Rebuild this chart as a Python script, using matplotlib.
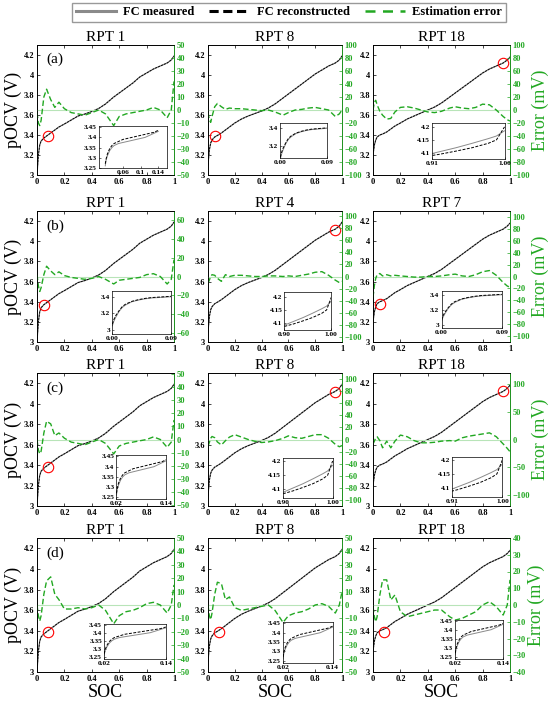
import matplotlib
matplotlib.use("Agg")
import matplotlib.pyplot as plt
from matplotlib.lines import Line2D
from matplotlib.ticker import FuncFormatter, MultipleLocator

# SOC grid shared by all main panels
soc = [0.0, 0.01, 0.02, 0.03, 0.05, 0.07, 0.1, 0.13, 0.16, 0.2, 0.25, 0.3, 0.35,
       0.4, 0.45, 0.5, 0.56, 0.6, 0.65, 0.7, 0.75, 0.8, 0.85, 0.9, 0.95, 0.98, 1.0]

# pOCV curves (V), one per column
ocv_col1 = [3.0, 3.2, 3.3, 3.34, 3.37, 3.39, 3.42, 3.45, 3.48, 3.51, 3.55, 3.59, 3.61,
            3.635, 3.665, 3.71, 3.78, 3.82, 3.87, 3.92, 3.98, 4.02, 4.06, 4.09, 4.12, 4.15, 4.19]
ocv_col2 = [3.1, 3.25, 3.32, 3.35, 3.38, 3.395, 3.42, 3.45, 3.48, 3.52, 3.56, 3.59, 3.615,
            3.64, 3.67, 3.71, 3.77, 3.81, 3.86, 3.91, 3.96, 4.01, 4.05, 4.09, 4.12, 4.15, 4.19]
ocv_col3 = [3.2, 3.3, 3.35, 3.38, 3.4, 3.41, 3.43, 3.46, 3.49, 3.52, 3.56, 3.59, 3.62,
            3.65, 3.68, 3.72, 3.78, 3.82, 3.87, 3.92, 3.97, 4.02, 4.06, 4.09, 4.12, 4.15, 4.18]

# estimation error (mV) per panel
err_a1 = [-2, -10, -12, -8, 10, 16, 8, 2, 6, 1, -2, -3, -4, -2, 0, -3, -12, -5, -3, -2, -1, 0, 2, 0, -6, 0, 22]
err_a2 = [-4, -15, -19, -10, 5, 10, 5, 1, 3, 2, 2, 1, 0, -1, 0, -3, -8, -4, 0, 1, 3, 4, 2, 0, -10, -6, 0]
err_a3 = [0, 12, 15, 8, -2, -8, -14, -13, -3, 4, 5, 3, 0, -3, -4, -2, 3, 5, 3, 2, 4, 9, 8, 0, -10, -15, -17]
err_b1 = [2, -10, -16, -12, 2, 11, 6, 2, 5, 1, -1, -2, -3, -2, 0, -3, -8, -4, -3, -2, -1, 2, 3, 0, -8, -3, 18]
err_b2 = [-11, -6, 0, 3, 2, -3, -8, 3, 0, 2, 2, 1, 0, 0, 1, 1, 0, 1, 0, 2, 4, 7, 8, 2, -6, -10, -8]
err_b3 = [-35, -15, -3, 3, 5, 1, 3, 1, 2, 1, 0, -1, -1, 0, 0, 1, 3, 4, 1, 0, 3, 8, 10, 2, -10, -16, -18]
err_c1 = [0, -8, -11, -9, 5, 14, 12, 3, 5, 1, -2, -3, -4, -2, 0, -3, -11, -5, -3, -2, -1, 0, 2, 0, -6, -2, 15]
err_c2 = [-11, -5, 2, 5, 3, -4, -9, -2, 4, 8, 4, 0, -3, -5, -4, -2, 2, 6, 3, 2, 5, 8, 8, 2, -8, -12, -10]
err_c3 = [-8, -3, 3, 5, -2, -15, -3, -15, -3, 8, 5, -2, -6, -6, -5, -3, -2, -3, 3, 6, 8, 10, 12, 5, -8, -16, -22]
err_d1 = [0, -8, -12, -8, 8, 18, 21, 8, 4, -3, -3, -2, -3, -2, 0, -4, -14, -8, -5, -4, -2, 1, 2, 0, -6, 0, 15]
err_d2 = [0, -8, -11, -6, 8, 17, 16, 4, 6, -2, -4, -3, -2, -1, 0, -4, -13, -8, -6, -5, -3, 0, 1, -1, -6, 0, 10]
err_d3 = [-1, -7, -10, -7, 6, 15, 15, 3, 6, -4, -7, -6, -5, -4, -3, -3, -7, -9, -8, -6, -4, 0, 2, -1, -6, 0, 15]

# zoomed inset data
soc_lo = [0.02, 0.022, 0.025, 0.03, 0.035, 0.04, 0.05, 0.06, 0.07, 0.08, 0.09, 0.1, 0.11, 0.12, 0.13, 0.14]
lo_meas = [3.26, 3.29, 3.31, 3.335, 3.35, 3.36, 3.37, 3.375, 3.38, 3.385, 3.39, 3.395, 3.40, 3.41, 3.42, 3.43]
lo_recon = [3.27, 3.295, 3.32, 3.345, 3.36, 3.37, 3.38, 3.39, 3.395, 3.40, 3.405, 3.41, 3.415, 3.42, 3.425, 3.435]
soc_st = [0.0, 0.002, 0.005, 0.01, 0.015, 0.02, 0.03, 0.04, 0.05, 0.06, 0.07, 0.08, 0.09]
st_meas = [3.05, 3.1, 3.15, 3.22, 3.27, 3.3, 3.34, 3.36, 3.375, 3.385, 3.39, 3.395, 3.40]
st_recon = [3.07, 3.12, 3.17, 3.23, 3.28, 3.31, 3.345, 3.365, 3.38, 3.39, 3.395, 3.4, 3.405]
soc_hi = [0.90, 0.92, 0.94, 0.96, 0.98, 0.99, 1.0]
hi_meas = [4.09, 4.105, 4.12, 4.137, 4.155, 4.165, 4.185]
hi_recon = [4.085, 4.095, 4.107, 4.12, 4.137, 4.15, 4.2]

lo_yticks = [3.25, 3.3, 3.35, 3.4, 3.45]
st_yticks = [3.0, 3.2, 3.4]
hi_yticks = [4.1, 4.15, 4.2]

titles = [["RPT 1", "RPT 8", "RPT 18"],
          ["RPT 1", "RPT 4", "RPT 7"],
          ["RPT 1", "RPT 8", "RPT 18"],
          ["RPT 1", "RPT 8", "RPT 18"]]
row_tags = ["(a)", "(b)", "(c)", "(d)"]
errors = [[err_a1, err_a2, err_a3], [err_b1, err_b2, err_b3],
          [err_c1, err_c2, err_c3], [err_d1, err_d2, err_d3]]
ocvs = [ocv_col1, ocv_col2, ocv_col3]
# (limit, tick step) for right axis
err_axes = [[(50, 10), (100, 20), (100, 20)],
            [(70, 20), (108, 20), (110, 20)],
            [(51, 10), (110, 20), (120, 50)],
            [(50, 10), (50, 10), (40, 10)]]
circles = [[(0.08, 3.39), (0.05, 3.39), (0.95, 4.12)],
           [(0.05, 3.37), (0.95, 4.11), (0.05, 3.38)],
           [(0.08, 3.38), (0.95, 4.11), (0.95, 4.12)],
           [(0.08, 3.39), (0.08, 3.39), (0.08, 3.39)]]

GREEN = "#22a822"
GRAY = "#8a8a8a"

plt.rcParams["font.family"] = ["Liberation Serif", "DejaVu Serif"]
plt.rcParams["font.weight"] = "bold"
plt.rcParams["axes.linewidth"] = 0.6

# inset kind, rect in axes coords, xlim, xticks, xticklabels, ylim
insets = [[("lo", [0.45, 0.055, 0.5, 0.32], (0.005, 0.16), [0.06, 0.1, 0.14], ["0.06", "0.1", "0.14"], (3.25, 3.455)),
           ("st", [0.54, 0.13, 0.35, 0.27], (0.0, 0.09), [0.0, 0.09], ["0.00", "0.09"], (3.06, 3.46)),
           ("hi", [0.43, 0.12, 0.53, 0.28], (0.91, 1.0), [0.91, 1.0], ["0.91", "1.00"], (4.075, 4.215))],
          [("st", [0.55, 0.06, 0.43, 0.33], (0.0, 0.09), [0.0, 0.09], ["0.00", "0.09"], (2.95, 3.47)),
           ("hi", [0.57, 0.09, 0.35, 0.29], (0.9, 1.0), [0.9, 1.0], ["0.90", "1.00"], (4.07, 4.22)),
           ("st", [0.5, 0.11, 0.44, 0.28], (0.0, 0.09), [0.0, 0.09], ["0.00", "0.09"], (2.97, 3.45))],
          [("lo", [0.58, 0.05, 0.365, 0.33], (0.02, 0.14), [0.02, 0.14], ["0.02", "0.14"], (3.24, 3.455)),
           ("hi", [0.56, 0.06, 0.37, 0.30], (0.9, 1.0), [0.9, 1.0], ["0.90", "1.00"], (4.07, 4.21)),
           ("hi", [0.58, 0.07, 0.365, 0.30], (0.91, 1.0), [0.91, 1.0], ["0.91", "1.00"], (4.07, 4.21))],
          [("lo", [0.49, 0.10, 0.45, 0.26], (0.02, 0.14), [0.02, 0.14], ["0.02", "0.14"], (3.24, 3.455)),
           ("lo", [0.56, 0.07, 0.37, 0.30], (0.02, 0.14), [0.02, 0.14], ["0.02", "0.14"], (3.24, 3.455)),
           ("lo", [0.6, 0.10, 0.35, 0.29], (0.02, 0.14), [0.02, 0.14], ["0.02", "0.14"], (3.24, 3.455))]]
inset_data = {"lo": (soc_lo, lo_meas, lo_recon, lo_yticks),
              "st": (soc_st, st_meas, st_recon, st_yticks),
              "hi": (soc_hi, hi_meas, hi_recon, hi_yticks)}

gfmt = FuncFormatter(lambda v, p: "{:g}".format(round(v, 3)))


def draw_inset(host, spec):
    kind, rect, xlim, xt, xtl, ylim = spec
    x, ym, yr, yt = inset_data[kind]
    ins = host.inset_axes(rect)
    ins.plot(x, ym, color=GRAY, lw=0.7)
    ins.plot(x, yr, color="k", lw=0.7, ls=(0, (3, 1.5)))
    ins.set_xlim(*xlim)
    ins.set_ylim(*ylim)
    ins.set_xticks(xt)
    ins.set_xticklabels(xtl)
    yt_in = [v for v in yt if ylim[0] <= v <= ylim[1]]
    ins.set_yticks(yt_in)
    ins.set_yticklabels(["{:g}".format(v) for v in yt_in])
    ins.tick_params(direction="in", length=1.5, width=0.4, labelsize=5.3, pad=1.5)
    for s in ins.spines.values():
        s.set_linewidth(0.5)


def draw_panel(ax, r, c):
    ax.plot(soc, ocvs[c], color=GRAY, lw=0.9)
    ax.plot(soc, ocvs[c], color="k", lw=0.65, ls=(0, (2.5, 1)))
    ax.set_xlim(0, 1)
    ax.set_ylim(3, 4.3)
    ax.xaxis.set_major_locator(MultipleLocator(0.2))
    ax.yaxis.set_major_locator(MultipleLocator(0.2))
    ax.xaxis.set_major_formatter(gfmt)
    ax.yaxis.set_major_formatter(gfmt)
    ax.tick_params(direction="in", length=2, width=0.5, labelsize=6, pad=2, top=True)
    ax.set_title(titles[r][c], fontsize=11, fontweight="normal", pad=3)
    cx, cy = circles[r][c]
    ax.plot(cx, cy, "o", mfc="none", mec="red", ms=7.5, mew=0.8)

    ax2 = ax.twinx()
    lim, step = err_axes[r][c]
    ax2.axhline(0, color="#b8e4b8", lw=0.8)
    ax2.plot(soc, errors[r][c], color=GREEN, lw=1.0, ls=(0, (4, 2)))
    ax2.set_ylim(-lim, lim)
    ax2.yaxis.set_major_locator(MultipleLocator(step))
    ax2.tick_params(direction="in", length=2, width=0.5, labelsize=6, pad=2,
                    colors=GREEN)
    ax2.spines["right"].set_color(GREEN)
    draw_inset(ax2, insets[r][c])

    if c == 0:
        ax.set_ylabel("pOCV (V)", fontsize=13, fontweight="normal", labelpad=1)
        ax.text(0.07, 0.86, row_tags[r], transform=ax.transAxes, fontsize=11,
                fontweight="normal")
    if c == 2:
        ax2.set_ylabel("Error (mV)", fontsize=13, fontweight="normal", color=GREEN,
                       labelpad=1)
    if r == 3:
        ax.set_xlabel("SOC", fontsize=13, fontweight="normal", labelpad=1)


def main():
    fig = plt.figure(figsize=(5.5, 7.1), dpi=100)
    W, H = 550.0, 710.0
    col_left = [37, 208, 373]
    col_w = [137, 134, 137]
    row_top = [45, 211, 373, 538]
    row_bot = [175, 342, 506, 672]
    for r in range(4):
        for c in range(3):
            ax = fig.add_axes([col_left[c] / W, 1 - row_bot[r] / H,
                               col_w[c] / W, (row_bot[r] - row_top[r]) / H])
            draw_panel(ax, r, c)

    handles = [Line2D([], [], color=GRAY, lw=2.2),
               Line2D([], [], color="k", lw=2.2, ls=(0, (3, 1.5))),
               Line2D([], [], color=GREEN, lw=1.8, ls=(0, (4, 3)))]
    labels = ["FC measured", "FC reconstructed", "Estimation error"]
    fig.legend(handles, labels, loc="upper center", bbox_to_anchor=(0.525, 1.0),
               ncol=3, fancybox=False, edgecolor="#999999", framealpha=1,
               prop={"size": 9, "weight": "bold"}, handlelength=3.2,
               columnspacing=1.2, handletextpad=0.6, borderpad=0.3,
               borderaxespad=0.2)
    fig.savefig("out.png", dpi=100)


if __name__ == "__main__":
    main()
